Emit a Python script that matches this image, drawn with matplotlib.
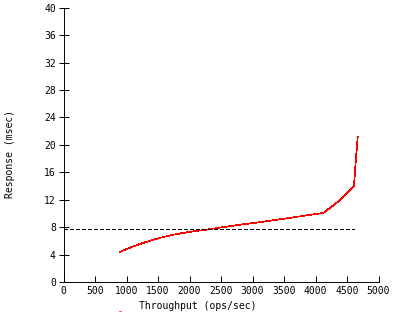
import matplotlib
matplotlib.use("Agg")
import matplotlib.pyplot as plt

# response curve
throughput = [900, 1000, 1200, 1400, 1600, 1800, 2000, 2200, 2500, 2800,
              3100, 3400, 3700, 4000, 4130, 4400, 4610, 4640, 4670]
response = [4.4, 4.8, 5.5, 6.1, 6.6, 7.0, 7.3, 7.55, 7.95, 8.35,
            8.7, 9.1, 9.5, 9.9, 10.1, 12.0, 14.0, 17.7, 21.2]

# dashed reference level
ref_x = [0, 4610]
ref_y = [7.68, 7.68]

xticks = [0, 500, 1000, 1500, 2000, 2500, 3000, 3500, 4000, 4500, 5000]
yticks = [0, 4, 8, 12, 16, 20, 24, 28, 32, 36, 40]

plt.rcParams["font.family"] = "DejaVu Sans Mono"

fig = plt.figure(figsize=(4, 3.2), dpi=100)
ax = fig.add_axes([63.5 / 400, 38 / 320, 315 / 400, 274.3 / 320])

line, = ax.plot(throughput, response, color="red", lw=0.5, antialiased=False)
ax.plot(ref_x, ref_y, color="black", lw=0.6, linestyle=(0, (4.5, 3.2)),
        antialiased=False)

ax.set_xlim(0, 5000)
ax.set_ylim(0, 40)
ax.set_xticks(xticks)
ax.set_yticks(yticks)
ax.tick_params(axis="x", direction="in", length=4, width=0.7, labelsize=7, pad=3)
ax.tick_params(axis="y", direction="inout", length=7, width=0.7, labelsize=7, pad=2)

for side in ["top", "right"]:
    ax.spines[side].set_visible(False)
for side in ["left", "bottom"]:
    ax.spines[side].set_linewidth(0.7)

ax.set_xlabel("Throughput (ops/sec)", fontsize=7)
ax.xaxis.set_label_coords(0.425, -0.07)
ax.set_ylabel("Response (msec)", fontsize=7)
ax.yaxis.set_label_coords(-0.155, 0.467)

fig.legend([line], [""], loc="center", bbox_to_anchor=(120 / 400, 8 / 320),
           frameon=False, handlelength=0.1, handletextpad=0, borderpad=0)

fig.savefig("out.png", dpi=100)
